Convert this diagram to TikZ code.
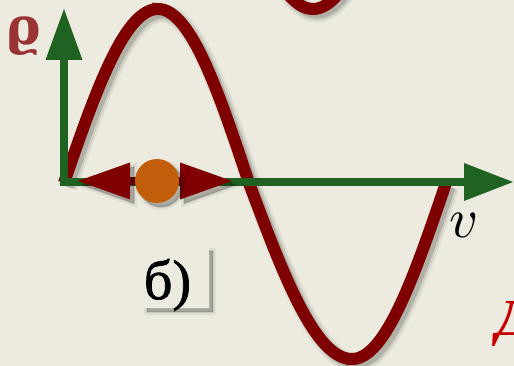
\documentclass[tikz,border=0pt]{standalone}
\usepackage{amsmath}
\usepackage{fontspec}
\newfontfamily\cyrserif{Liberation Serif}
\newfontfamily\cyrlabel[FakeBold=1.3]{Liberation Serif}
\newfontfamily\greekserif{DejaVu Serif}
\definecolor{bg}{HTML}{EDEBE0}
\definecolor{curvered}{HTML}{7E0000}
\definecolor{axisgreen}{HTML}{1F6221}
\definecolor{dotorange}{HTML}{C25E0A}
\definecolor{rholabel}{HTML}{993434}
\definecolor{brightred}{HTML}{C40000}
\begin{document}
\begin{tikzpicture}[x=1pt,y=1pt,
  curvestyle/.style={draw=curvered, line width=12pt},
  curveshadow/.style={
    preaction={draw=black, line width=19pt, opacity=0.05, transform canvas={shift={(4pt,-4pt)}}},
    preaction={draw=black, line width=15pt, opacity=0.08, transform canvas={shift={(4pt,-4pt)}}},
    preaction={draw=black, line width=11pt, opacity=0.14, transform canvas={shift={(4pt,-4pt)}}}},
  fillshadow/.style={
    preaction={fill=black, draw=black, line width=6pt, opacity=0.05, transform canvas={shift={(4pt,-4pt)}}},
    preaction={fill=black, draw=black, line width=2pt, opacity=0.1, transform canvas={shift={(4pt,-4pt)}}},
    preaction={fill=black, opacity=0.12, transform canvas={shift={(4pt,-4pt)}}}},
  axisline/.style={draw=axisgreen, line width=8.5pt, line join=miter},
  axishead/.style={fill=axisgreen},
  redhead/.style={fill=curvered, fillshadow},
  labelbox/.style={fill=bg, minimum width=66pt, minimum height=61pt, inner sep=0pt, fillshadow}
]
\fill[bg] (0,0) rectangle (514,-366);
\useasboundingbox (0,0) rectangle (514,-366);
\clip (0,0) rectangle (514,-366);

% named coordinates
\coordinate (O) at (64,-182);
\coordinate (ybase) at (64,-60);
\coordinate (ytip) at (64,-9);
\coordinate (xbase) at (464,-182);
\coordinate (xtip) at (513,-182);
\coordinate (ltip) at (78,-181);
\coordinate (lbase) at (130,-181);
\coordinate (rbase) at (180,-181);
\coordinate (rtip) at (232,-181);

% curves
\path[curvestyle, curveshadow, line cap=round] plot[domain=266:360, samples=60] (\x,{-9+172*(1-cos(0.96*(\x-313)))});
\path[curvestyle, curveshadow, line cap=butt]
  plot[domain=0:90, samples=50] ({64+94*\x/90},{-183+174*sin(\x)})
  -- plot[domain=90:180, samples=50] ({158+91*(\x-90)/90},{-183+174*sin(\x)})
  -- plot[domain=180:270, samples=50] ({249+103*(\x-180)/90},{-183+176*sin(\x)})
  -- plot[domain=270:360, samples=50] ({352+94*(\x-270)/90},{-183+176*sin(\x)});

% axes
\draw[axisline] (ybase) -- (O) -- (xbase);
\fill[axishead] (ytip) -- ([xshift=-18.5pt]ybase) -- ([xshift=18.5pt]ybase) -- cycle;
\fill[axishead] (xtip) -- ([yshift=19pt]xbase) -- ([yshift=-19pt]xbase) -- cycle;

% red double arrow with dot
\draw[draw=curvered, line width=8pt] (lbase) -- (rbase);
\path[redhead] (ltip) -- ([yshift=18.5pt]lbase) -- ([yshift=-18.5pt]lbase) -- cycle;
\path[redhead] (rtip) -- ([yshift=18.5pt]rbase) -- ([yshift=-18.5pt]rbase) -- cycle;
\node[circle, fill=dotorange, minimum size=44pt, inner sep=0pt, fillshadow] (dot) at (157,-181) {};

% labels
\node[text=rholabel, inner sep=0pt, font=\greekserif\bfseries\fontsize{52}{52}\selectfont] (rho) at (24,-36) {ϱ};
\node[scale=5.6, inner sep=0pt] (vlab) at (464,-225) {$v$};
\node[labelbox] (box) at (176,-277.5) {};
\node[inner sep=0pt, font=\cyrlabel\fontsize{56}{56}\selectfont] (blab) at (167.5,-285) {б)};
\node[text=brightred, anchor=base west, inner sep=0pt, font=\cyrserif\bfseries\itshape\fontsize{52}{52}\selectfont] (dlab) at (496,-335) {Д};
\end{tikzpicture}
\end{document}
